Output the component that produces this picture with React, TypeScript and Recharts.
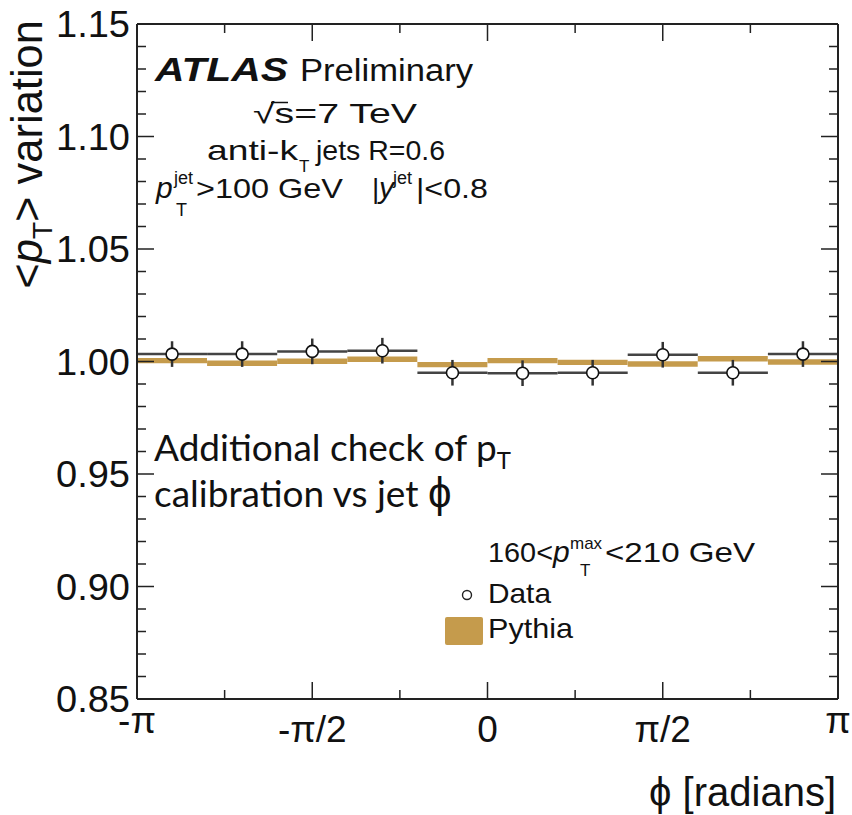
import React from "react";
import { ComposedChart, Bar, Scatter, ErrorBar, XAxis, YAxis } from "recharts";

const PI = Math.PI;

// 10 bins in phi, centres given in units of pi
const binCentres = [-0.9, -0.7, -0.5, -0.3, -0.1, 0.1, 0.3, 0.5, 0.7, 0.9];
const binHalfWidth = 0.1;

const dataValues = [1.0033, 1.0033, 1.0045, 1.0048, 0.995, 0.9948, 0.995, 1.003, 0.995, 1.0033];
const dataErrors = [0.0057, 0.0057, 0.0057, 0.0057, 0.0057, 0.0057, 0.0057, 0.0057, 0.0057, 0.0057];
const pythiaValues = [1.0004, 0.9992, 1.0001, 1.001, 0.9986, 1.0004, 0.9996, 0.9989, 1.0012, 0.9998];
const pythiaErrors = [0.0012, 0.0012, 0.0012, 0.0012, 0.0012, 0.0012, 0.0012, 0.0012, 0.0012, 0.0012];

const phiTicks = [-PI, -0.75 * PI, -0.5 * PI, -0.25 * PI, 0, 0.25 * PI, 0.5 * PI, 0.75 * PI, PI];
const phiTickLabels = ["-π", "", "-π/2", "", "0", "", "π/2", "", "π"];

const yMajorTicks = [0.85, 0.9, 0.95, 1.0, 1.05, 1.1, 1.15];
const yMajorLabels = ["0.85", "0.90", "0.95", "1.00", "1.05", "1.10", "1.15"];
const yAllTicks = Array.from({ length: 31 }, (_, i) => Math.round((0.85 + i * 0.01) * 100) / 100);

const PYTHIA = "#C59B4C";
const FONT = "'Liberation Sans', Arial, Helvetica, sans-serif";

const rows = binCentres.map((c, i) => ({
  bin: i,
  phi: c * PI,
  phiErr: binHalfWidth * PI,
  data: dataValues[i],
  dataErr: dataErrors[i],
  pythia: [pythiaValues[i] - pythiaErrors[i], pythiaValues[i] + pythiaErrors[i]],
}));

const MAJOR = 17;
const MINOR = 9;

const yLabelFor = (v: number) => {
  const k = yMajorTicks.findIndex((m) => Math.abs(m - v) < 1e-6);
  return k >= 0 ? yMajorLabels[k] : "";
};

const LeftTick = (props: any) => {
  const { x, y, payload } = props;
  const label = yLabelFor(payload.value);
  return (
    <g>
      <line x1={x} x2={x + (label ? MAJOR : MINOR)} y1={y} y2={y} stroke="#222" strokeWidth={1.5} />
      {label && (
        <text
          x={x - 81}
          y={y + 13}
          fontFamily={FONT}
          fontSize={37}
          fill="#111"
          textLength={74}
          lengthAdjust="spacingAndGlyphs"
        >
          {label}
        </text>
      )}
    </g>
  );
};

const RightTick = (props: any) => {
  const { x, y, payload } = props;
  const len = yLabelFor(payload.value) ? MAJOR : MINOR;
  return <line x1={x} x2={x - len} y1={y} y2={y} stroke="#222" strokeWidth={1.5} />;
};

const BottomTick = (props: any) => {
  const { x, y, index } = props;
  const label = phiTickLabels[index];
  const isEnd = index === 0 || index === phiTicks.length - 1;
  return (
    <g>
      {!isEnd && <line x1={x} x2={x} y1={y} y2={y - (label ? MAJOR : MINOR)} stroke="#222" strokeWidth={1.5} />}
      {label && (
        <text x={x} y={y + (isEnd ? 34 : 43)} textAnchor="middle" fontFamily={FONT} fontSize={37} fill="#111">
          {label}
        </text>
      )}
    </g>
  );
};

const TopTick = (props: any) => {
  const { x, y, index } = props;
  if (index === 0 || index === phiTicks.length - 1) return <g />;
  const len = phiTickLabels[index] ? MAJOR : MINOR;
  return <line x1={x} x2={x} y1={y} y2={y + len} stroke="#222" strokeWidth={1.5} />;
};

const DataMarker = (props: any) => (
  <circle cx={props.cx} cy={props.cy} r={6} fill="#fff" stroke="#111" strokeWidth={1.6} />
);

const Annotations = () => (
  <svg
    width={852}
    height={815}
    style={{ position: "absolute", left: 0, top: 0, pointerEvents: "none" }}
    fontFamily={FONT}
    fill="#111"
  >
    {/* y title */}
    <text transform="rotate(-90 42 20)" x={42} y={20} textAnchor="end" fontSize={43.5}>
      <tspan>&lt;</tspan>
      <tspan fontStyle="italic">p</tspan>
      <tspan fontSize={28} dy={10}>T</tspan>
      <tspan dy={-10}>&gt; variation</tspan>
    </text>
    {/* x title */}
    <text x={836} y={806} textAnchor="end" fontSize={40}>
      ϕ [radians]
    </text>

    <text x={155} y={81} fontSize={33} fontWeight="bold" fontStyle="italic" textLength={133} lengthAdjust="spacingAndGlyphs">
      ATLAS
    </text>
    <text x={300} y={81} fontSize={31} textLength={173} lengthAdjust="spacingAndGlyphs">
      Preliminary
    </text>

    <text x={253} y={123} fontSize={28} textLength={164} lengthAdjust="spacingAndGlyphs">
      √s=7 TeV
    </text>
    <line x1={271} x2={288} y1={102.5} y2={102.5} stroke="#111" strokeWidth={1.5} />

    <text x={207} y={160} fontSize={28} textLength={91} lengthAdjust="spacingAndGlyphs">
      anti-k
    </text>
    <text x={299} y={172} fontSize={17}>T</text>
    <text x={316} y={160} fontSize={28} textLength={129} lengthAdjust="spacingAndGlyphs">
      jets R=0.6
    </text>

    <text x={156} y={198} fontSize={30} fontStyle="italic">p</text>
    <text x={174} y={184} fontSize={18}>jet</text>
    <text x={176} y={216} fontSize={18}>T</text>
    <text x={196} y={198} fontSize={28} textLength={147} lengthAdjust="spacingAndGlyphs">
      &gt;100 GeV
    </text>
    <text x={372} y={198} fontSize={28}>|</text>
    <text x={379} y={198} fontSize={30} fontStyle="italic">y</text>
    <text x={393} y={184} fontSize={18}>jet</text>
    <text x={416} y={198} fontSize={28} textLength={72} lengthAdjust="spacingAndGlyphs">
      |&lt;0.8
    </text>

    <g fontFamily="Lato, 'Open Sans', sans-serif" fontSize={37}>
      <text x={154} y={461}>
        Additional check of p
        <tspan fontSize={24} dy={8}>T</tspan>
      </text>
      <text x={154} y={507}>
        calibration vs jet <tspan fontFamily={FONT} fontSize={42}>ϕ</tspan>
      </text>
    </g>

    {/* legend */}
    <text x={488} y={562} fontSize={28} textLength={65} lengthAdjust="spacingAndGlyphs">
      160&lt;
    </text>
    <text x={553} y={562} fontSize={30} fontStyle="italic">p</text>
    <text x={570} y={549} fontSize={17}>max</text>
    <text x={580} y={576} fontSize={17}>T</text>
    <text x={605} y={562} fontSize={28} textLength={150} lengthAdjust="spacingAndGlyphs">
      &lt;210 GeV
    </text>
    <circle cx={467} cy={595} r={4.5} fill="#fff" stroke="#222" strokeWidth={1.4} />
    <text x={488} y={603} fontSize={28} textLength={63} lengthAdjust="spacingAndGlyphs">
      Data
    </text>
    <rect x={445} y={617} width={38} height={28} rx={2} fill={PYTHIA} />
    <text x={488} y={638} fontSize={28} textLength={85} lengthAdjust="spacingAndGlyphs">
      Pythia
    </text>
  </svg>
);

export default function App() {
  return (
    <div style={{ position: "absolute", left: 0, top: 0, width: 852, height: 815, background: "#fff" }}>
      <ComposedChart
        width={852}
        height={815}
        data={rows}
        margin={{ top: 23, right: 13, bottom: 115, left: 17 }}
        barCategoryGap={0}
        barGap={0}
      >
        <XAxis xAxisId="bins" dataKey="bin" type="category" hide height={0} />
        <XAxis
          xAxisId="phi"
          dataKey="phi"
          type="number"
          domain={[-PI, PI]}
          allowDataOverflow
          ticks={phiTicks}
          interval={0}
          height={1}
          tickSize={0}
          tickMargin={0}
          tickLine={false}
          axisLine={{ stroke: "#222", strokeWidth: 2 }}
          tick={(p: any) => <BottomTick {...p} />}
        />
        <XAxis
          xAxisId="top"
          dataKey="phi"
          orientation="top"
          type="number"
          domain={[-PI, PI]}
          allowDataOverflow
          ticks={phiTicks}
          interval={0}
          height={1}
          tickSize={0}
          tickMargin={0}
          tickLine={false}
          axisLine={{ stroke: "#222", strokeWidth: 2 }}
          tick={(p: any) => <TopTick {...p} />}
        />
        <YAxis
          yAxisId="main"
          type="number"
          domain={[0.85, 1.15]}
          allowDataOverflow
          ticks={yAllTicks}
          interval={0}
          width={120}
          tickSize={0}
          tickMargin={0}
          tickLine={false}
          axisLine={{ stroke: "#222", strokeWidth: 2 }}
          tick={(p: any) => <LeftTick {...p} />}
        />
        <YAxis
          yAxisId="right"
          orientation="right"
          type="number"
          domain={[0.85, 1.15]}
          allowDataOverflow
          ticks={yAllTicks}
          interval={0}
          width={1}
          tickSize={0}
          tickMargin={0}
          tickLine={false}
          axisLine={{ stroke: "#222", strokeWidth: 2 }}
          tick={(p: any) => <RightTick {...p} />}
        />
        <Bar xAxisId="bins" yAxisId="main" dataKey="pythia" fill={PYTHIA} isAnimationActive={false} />
        <Scatter
          xAxisId="phi"
          yAxisId="main"
          dataKey="data"
          shape={(p: any) => <DataMarker {...p} />}
          isAnimationActive={false}
        >
          <ErrorBar dataKey="phiErr" direction="x" width={0} stroke="#444" strokeWidth={2.5} isAnimationActive={false} />
          <ErrorBar dataKey="dataErr" direction="y" width={0} stroke="#333" strokeWidth={2.5} isAnimationActive={false} />
        </Scatter>
      </ComposedChart>
      <Annotations />
    </div>
  );
}
